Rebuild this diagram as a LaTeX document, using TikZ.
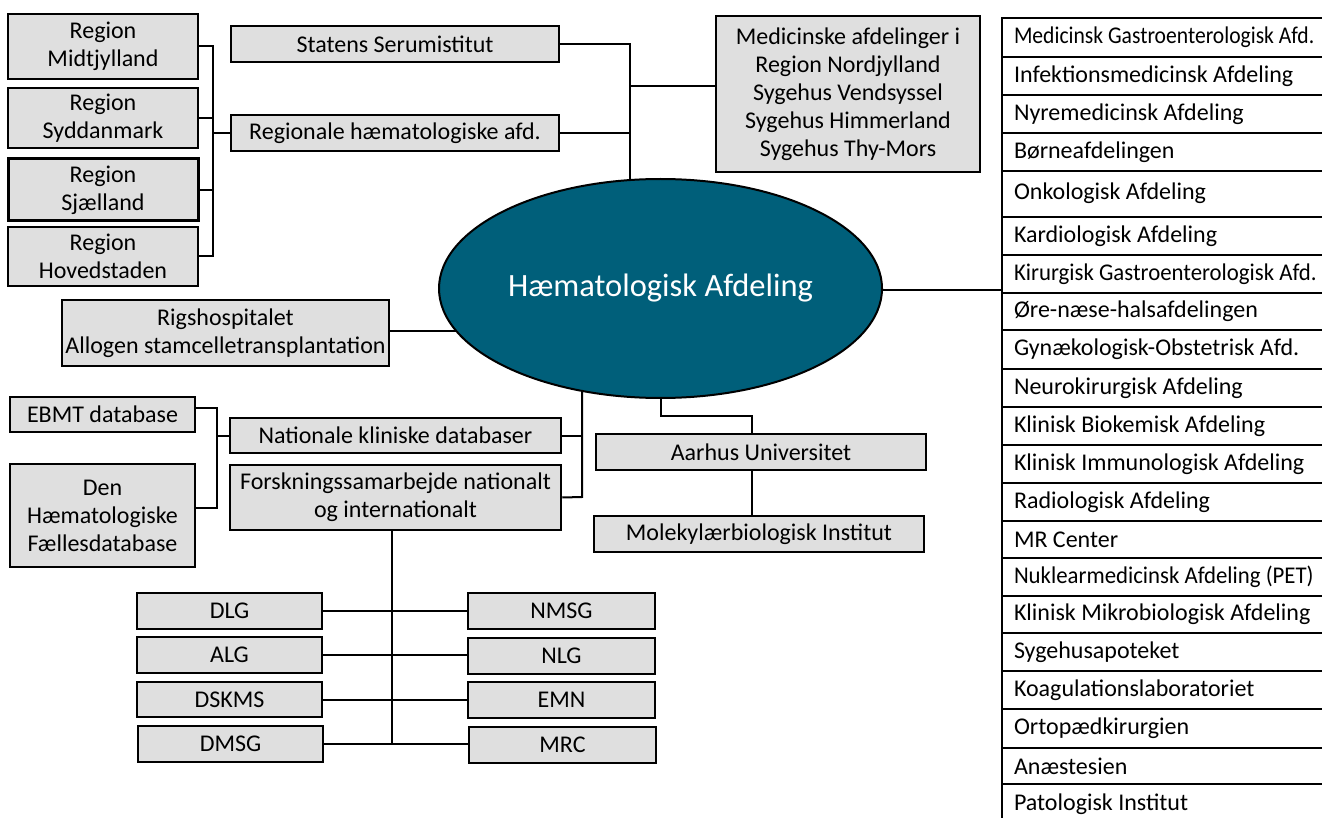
\documentclass[tikz,border=0pt]{standalone}
\usepackage{fontspec}
\setmainfont{Carlito}
\usetikzlibrary{backgrounds,shapes.geometric}
\definecolor{hteal}{RGB}{0,95,122}
\definecolor{boxgray}{RGB}{223,223,223}
\newcommand{\rowtxt}[2][1]{\makebox[316pt][l]{\scalebox{#1}[1]{#2}}}
\begin{document}
\begin{tikzpicture}[x=1pt,y=-1pt,
  gbox/.style={draw=black, fill=boxgray, line width=2.5pt, inner sep=0pt, align=center,
    font=\fontsize{24}{28}\selectfont},
  row/.style={draw=black, line width=2pt, anchor=north west, inner xsep=12pt,
    inner ysep=0pt, font=\fontsize{24}{28}\selectfont},
  conn/.style={draw=black, line width=2pt}]
\useasboundingbox (0,0) rectangle (1322,818);
\clip (0,0) rectangle (1322,818);

% central ellipse
\node[ellipse, draw=black, line width=2pt, fill=hteal, minimum width=443pt, minimum height=219pt,
  inner sep=0pt, text=white, font=\fontsize{32.5}{38}\selectfont] (hae) at (660.5,288.5) {Hæmatologisk Afdeling};

% regions
\node[gbox, minimum width=190pt, minimum height=65pt] (midt) at (103,46.5) {Region\\Midtjylland};
\node[gbox, minimum width=190pt, minimum height=60pt] (sydd) at (103,118) {Region\\Syddanmark};
\node[gbox, line width=3pt, minimum width=190pt, minimum height=62pt] (sjael) at (103,190) {Region\\Sjælland};
\node[gbox, minimum width=190pt, minimum height=59pt] (hoved) at (103,256.5) {Region\\Hovedstaden};

\node[gbox, minimum width=328pt, minimum height=36pt] (statens) at (395,44) {Statens Serumistitut};
\node[gbox, minimum width=328pt, minimum height=36pt] (regionale) at (395,133) {Regionale hæmatologiske afd.};
\node[gbox, minimum width=264pt, minimum height=156pt] (medicinske) at (848,94)
  {Medicinske afdelinger i\\Region Nordjylland\\Sygehus Vendsyssel\\Sygehus Himmerland\\Sygehus Thy-Mors};

\node[gbox, minimum width=327pt, minimum height=66pt] (rigs) at (225.5,333) {Rigshospitalet\\Allogen stamcelletransplantation};

\node[gbox, minimum width=185pt, minimum height=35pt] (ebmt) at (102.5,414.5) {EBMT database};
\node[gbox, minimum width=185pt, minimum height=103pt] (den) at (102.5,515.5) {Den\\Hæmatologiske\\Fællesdatabase};
\node[gbox, minimum width=331pt, minimum height=35pt] (nat) at (395.5,435.5) {Nationale kliniske databaser};
\node[gbox, minimum width=331pt, minimum height=65pt] (forsk) at (395.5,497.5) {Forskningssamarbejde nationalt\\og internationalt};

\node[gbox, minimum width=330pt, minimum height=36pt] (aarhus) at (761,452) {Aarhus Universitet};
\node[gbox, minimum width=330pt, minimum height=36pt] (molek) at (759,534) {Molekylærbiologisk Institut};

\node[gbox, minimum width=185pt, minimum height=36pt] (dlg) at (229.5,611) {DLG};
\node[gbox, minimum width=185pt, minimum height=36pt] (alg) at (229.5,655) {ALG};
\node[gbox, minimum width=185pt, minimum height=35pt] (dskms) at (229.5,699.5) {DSKMS};
\node[gbox, minimum width=185pt, minimum height=36pt] (dmsg) at (230.5,744) {DMSG};
\node[gbox, minimum width=187pt, minimum height=36pt] (nmsg) at (561.5,611) {NMSG};
\node[gbox, minimum width=187pt, minimum height=36pt] (nlg) at (561.5,656) {NLG};
\node[gbox, minimum width=187pt, minimum height=36pt] (emn) at (561.5,700) {EMN};
\node[gbox, minimum width=187pt, minimum height=36pt] (mrc) at (562.5,745) {MRC};

% department list
\node[row, minimum height=39pt] (r1) at (1001,17) {\rowtxt[0.9]{Medicinsk Gastroenterologisk Afd.}};
\node[row, minimum height=38pt] (r2) at (1001,56) {\rowtxt{Infektionsmedicinsk Afdeling}};
\node[row, minimum height=38pt] (r3) at (1001,94) {\rowtxt{Nyremedicinsk Afdeling}};
\node[row, minimum height=38pt] (r4) at (1001,132) {\rowtxt{Børneafdelingen}};
\node[row, minimum height=46pt] (r5) at (1001,170) {\raisebox{5pt}{\rowtxt{Onkologisk Afdeling}}};
\node[row, minimum height=38pt] (r6) at (1001,216) {\rowtxt{Kardiologisk Afdeling}};
\node[row, minimum height=38pt] (r7) at (1001,254) {\rowtxt[0.95]{Kirurgisk Gastroenterologisk Afd.}};
\node[row, minimum height=37pt] (r8) at (1001,292) {\rowtxt{Øre-næse-halsafdelingen}};
\node[row, minimum height=39pt] (r9) at (1001,329) {\rowtxt{Gynækologisk-Obstetrisk Afd.}};
\node[row, minimum height=38pt] (r10) at (1001,368) {\rowtxt{Neurokirurgisk Afdeling}};
\node[row, minimum height=38pt] (r11) at (1001,406) {\rowtxt{Klinisk Biokemisk Afdeling}};
\node[row, minimum height=38pt] (r12) at (1001,444) {\rowtxt{Klinisk Immunologisk Afdeling}};
\node[row, minimum height=38pt] (r13) at (1001,482) {\rowtxt{Radiologisk Afdeling}};
\node[row, minimum height=37pt] (r14) at (1001,520) {\rowtxt{MR Center}};
\node[row, minimum height=38pt] (r15) at (1001,557) {\rowtxt[0.95]{Nuklearmedicinsk Afdeling (PET)}};
\node[row, minimum height=37pt] (r16) at (1001,595) {\rowtxt{Klinisk Mikrobiologisk Afdeling}};
\node[row, minimum height=38pt] (r17) at (1001,632) {\rowtxt{Sygehusapoteket}};
\node[row, minimum height=38pt] (r18) at (1001,670) {\rowtxt{Koagulationslaboratoriet}};
\node[row, minimum height=39pt] (r19) at (1001,708) {\rowtxt{Ortopædkirurgien}};
\node[row, minimum height=36pt] (r20) at (1001,747) {\rowtxt{Anæstesien}};
\node[row, minimum height=40pt] (r21) at (1001,783) {\rowtxt{Patologisk Institut}};

% connectors
\begin{scope}[on background layer]
\coordinate (rb) at (213,133);
\draw[conn] (midt.east) -- (midt.east -| rb) -- (hoved.east -| rb) -- (hoved.east);
\draw[conn] (sydd.east) -- (sydd.east -| rb);
\draw[conn] (sjael.east) -- (sjael.east -| rb);
\draw[conn] (rb) -- (rb -| regionale.west);

\coordinate (tb) at (630,86);
\draw[conn] (statens.east) -- (statens.east -| tb) -- (tb |- hae.center);
\draw[conn] (regionale.east) -- (regionale.east -| tb);
\draw[conn] (tb) -- (tb -| medicinske.west);

\draw[conn] ([yshift=-1.5pt]hae.center) -- ([yshift=-1.5pt]hae.center -| r7.west);
\draw[conn] ([yshift=2pt]rigs.east) -- ([yshift=2pt]rigs.east -| hae.center);

\coordinate (eb) at (217,436);
\draw[conn] ([yshift=6.5pt]ebmt.east) -- ([yshift=6.5pt]ebmt.east -| eb) -- ([yshift=7.5pt]den.east -| eb) -- ([yshift=7.5pt]den.east);
\draw[conn] (eb) -- (eb -| nat.west);

\coordinate (nb) at (582,497);
\draw[conn] (nat.east) -- (nat.east -| nb);
\draw[conn] (forsk.east) -- (nb) -- (nb |- hae.center);

\coordinate (fb) at (392,744);
\draw[conn] (forsk.south -| fb) -- (fb);
\draw[conn] (dlg.east) -- (dlg.east -| nmsg.west);
\draw[conn] (alg.east) -- (alg.east -| nlg.west);
\draw[conn] (dskms.east) -- (dskms.east -| emn.west);
\draw[conn] (dmsg.east) -- (dmsg.east -| mrc.west);

\coordinate (au) at (752,416);
\draw[conn] (hae.center) -- (hae.center |- au) -- (au) -- (au |- aarhus.north);
\draw[conn] (au |- aarhus.south) -- (au |- molek.north);
\end{scope}
\end{tikzpicture}
\end{document}
